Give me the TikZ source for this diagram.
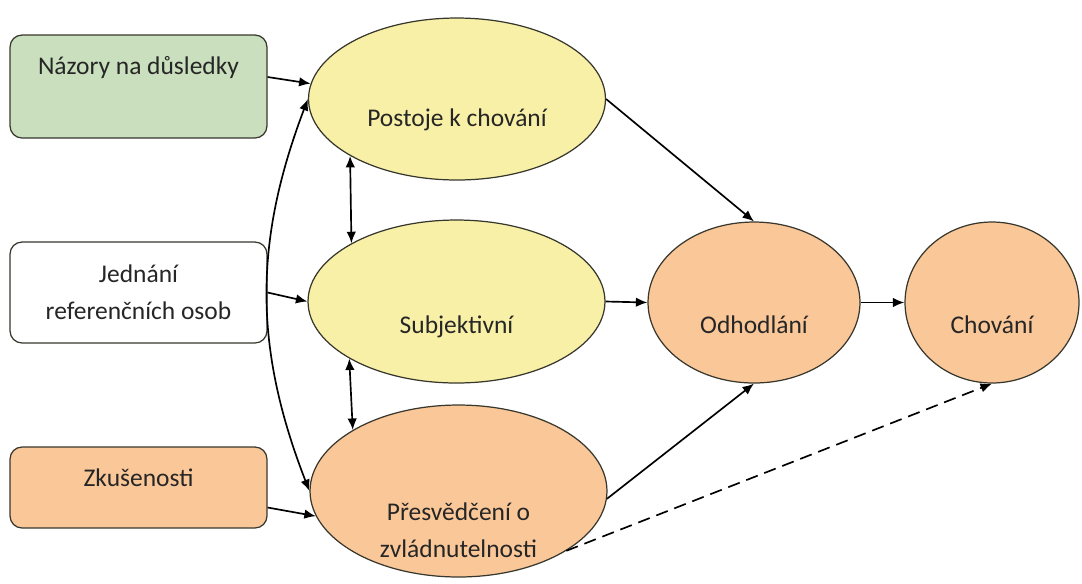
\documentclass[tikz,border=0pt]{standalone}
\usepackage{fontspec}
\setmainfont{Carlito}
\usetikzlibrary{shapes.geometric,arrows.meta}
\definecolor{boxgreen}{RGB}{201,223,189}
\definecolor{ovalyellow}{RGB}{248,240,166}
\definecolor{ovalorange}{RGB}{250,199,152}
\definecolor{edgegray}{RGB}{55,55,45}
\tikzset{
	box/.style={draw=edgegray, line width=0.7pt, rounded corners=0.24cm, minimum width=5.14cm, inner sep=0pt, align=center, text=black!85},
	oval/.style={ellipse, draw=edgegray, line width=0.7pt, inner sep=0pt, align=center, text=black!85, text depth=0pt, text height=#1},
	link/.style={-{Latex[length=2.3mm,width=1.9mm]}, line width=0.95pt},
	twoway/.style={{Latex[length=2.3mm,width=1.9mm]}-{Latex[length=2.3mm,width=1.9mm]}, line width=0.95pt}
}
\begin{document}
\begin{tikzpicture}[x=0.02cm, y=-0.02cm, font=\fontsize{14.5}{21}\selectfont]
	\useasboundingbox (0,0) rectangle (1082,583);
	% left column
	\node[box, fill=boxgreen, text height=0.78cm, text depth=1.28cm] (nazory) at (138.5,86.5) {Názory na důsledky};
	\node[box, fill=white, minimum height=2.02cm] (jednani) at (138.5,292.5) {Jednání\\referenčních osob};
	\node[box, fill=ovalorange, text height=0.78cm, text depth=0.84cm] (zkus) at (138.5,487.5) {Zkušenosti};
	% middle column
	\node[oval=1.08cm, fill=ovalyellow, minimum width=5.94cm, minimum height=3.24cm] (postoje) at (457,99) {Postoje k chování};
	\node[oval=1.28cm, fill=ovalyellow, minimum width=5.94cm, minimum height=3.26cm] (subj) at (456.5,301.5) {Subjektivní};
	\node[oval=2.64cm, inner ysep=-0.4cm, fill=ovalorange, minimum width=5.94cm, minimum height=3.44cm] (presv) at (458.5,491) {Přesvědčení o\\zvládnutelnosti};
	% right column
	\node[oval=1.24cm, fill=ovalorange, minimum width=4.24cm, minimum height=3.22cm] (odhod) at (754,302.5) {Odhodlání};
	\node[oval=1.24cm, fill=ovalorange, minimum width=3.48cm, minimum height=3.22cm] (chovani) at (992,302.5) {Chování};
	% arrows
	\draw[link] ([yshift=0.19cm]nazory.east) -- (postoje.174);
	\draw[link] (jednani.east) -- (subj.west);
	\draw[link] ([yshift=-0.4cm]zkus.east) -- (presv.190);
	\draw[twoway] (postoje.west) to[bend right=21] (presv.west);
	\draw[twoway] (postoje.208.5) -- (subj.151.5);
	\draw[twoway] (subj.208.5) -- (presv.150.6);
	\draw[link] (postoje.east) -- (odhod.north);
	\draw[link] (subj.east) -- (odhod.west);
	\draw[link] (presv.357) -- (odhod.south);
	\draw[link] (odhod.east) -- (chovani.west);
	\draw[link, dashed, dash pattern=on 7pt off 4pt] (presv.331) -- (chovani.south);
\end{tikzpicture}
\end{document}
